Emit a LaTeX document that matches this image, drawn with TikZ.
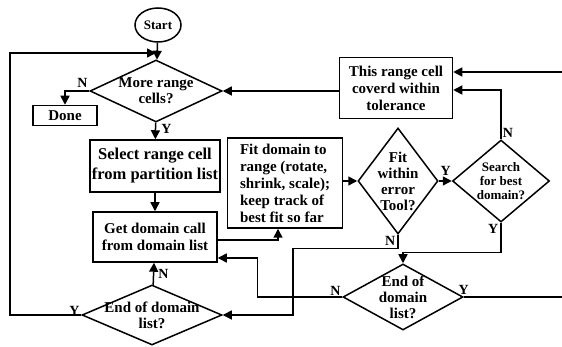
\documentclass[tikz,border=0pt]{standalone}
\usepackage{fontspec}
\setmainfont{Liberation Serif}
\usetikzlibrary{shapes.geometric,arrows.meta,positioning}

\begin{document}
\begin{tikzpicture}[x=1pt,y=-1pt,line width=1.5pt,
        font=\bfseries\fontsize{15}{17}\selectfont,
        box/.style={draw,rectangle,align=center,inner sep=2pt},
        decision/.style={draw,diamond,align=center,inner sep=-6pt,
                         font=\bfseries\fontsize{15}{16}\selectfont},
        yn/.style={font=\bfseries\fontsize{14}{14}\selectfont,inner sep=1pt},
        arr/.style={-{Triangle[length=9pt,width=9pt]}}]
                \useasboundingbox (0,0) rectangle (562,347);

                \node[draw,ellipse,minimum width=46pt,minimum height=34pt,inner sep=0pt,
                      font=\bfseries\fontsize{13}{13}\selectfont] (start) at (158,25) {Start};
                \node[decision,aspect=2.13,minimum width=132pt,minimum height=62pt] (more) at (156,91) {More range\\cells?};
                \node[box,minimum width=64pt,minimum height=20pt] (done) at (65,115.5) {Done};
                \node[box,minimum width=124pt,minimum height=52pt,
                      font=\bfseries\fontsize{16.5}{20}\selectfont] (select) at (155,166) {Select range cell\\from partition list};
                \node[box,minimum width=124pt,minimum height=50pt] (get) at (155,237) {Get domain call\\from domain list};
                \node[decision,aspect=2.33,minimum width=140pt,minimum height=60pt] (endl) at (152,315) {End of domain\\list?};
                \node[box,align=left,minimum width=115pt,minimum height=90pt] (fit) at (285,183) {Fit domain to\\range (rotate,\\shrink, scale);\\keep track of\\best fit so far};
                \node[decision,aspect=0.755,minimum width=80pt,minimum height=106pt] (tol) at (398,181) {Fit\\within\\error\\Tool?};
                \node[box,minimum width=113pt,minimum height=61pt] (cover) at (396,88) {This range cell\\coverd within\\tolerance};
                \node[decision,aspect=1.18,minimum width=97pt,minimum height=82pt,
                      font=\bfseries\fontsize{13}{14}\selectfont] (search) at (501,181) {Search\\for best\\domain?};
                \node[decision,aspect=1.82,minimum width=120pt,minimum height=66pt] (endr) at (403,297) {End of\\domain\\list?};

                \coordinate (loop) at (156,53);
                \coordinate (rin) at (562,72);
                \coordinate (rout) at (562,297);

                \draw[arr] (start) to (more);
                \draw[arr] (endl.west) node[yn,above left=-2pt and 0pt] {Y} -| (10,53) -- (loop);
                \draw[arr] (more.west) node[yn,above left=2pt and 0pt] {N} -| (done.north);
                \draw[arr] (more) to node[yn,below right=0pt and 4pt,pos=0] {Y} (select);
                \draw[arr] (select) to (get);
                \draw[arr] (endl) to node[yn,right=3pt] {N} (get);
                \draw[arr] ([yshift=-3pt]get.east) -| ([xshift=-7pt]fit.south);
                \draw[arr] (fit.east |- tol.west) to (tol.west);
                \draw[arr] (tol.east) node[yn,above right=4pt and 0pt] {Y} to (search.west);
                \draw[arr] (search.north) node[yn,above right=0pt and 0pt] {N} |- ([yshift=-2pt]cover.east);
                \draw[arr] (rin) to (rin -| cover.east);
                \draw[arr] (cover.west |- more.east) to (more.east);
                \draw[arr] (tol.south) node[yn,below left=0pt and 1pt] {N} -- ++(0,14) -| ([xshift=70pt]endl.east) -- (endl.east);
                \draw[arr] (search.south) node[yn,below left=0pt and 1pt] {Y} -- ++(0,30) -| (endr.north);
                \draw[arr] (endr.west) node[yn,above left=0pt and 0pt] {N} -- ++(-85,0) |- ([yshift=-21pt]get.east);
                \draw (endr.east) node[yn,above=1pt] {Y} to (rout);
            \end{tikzpicture}
\end{document}
